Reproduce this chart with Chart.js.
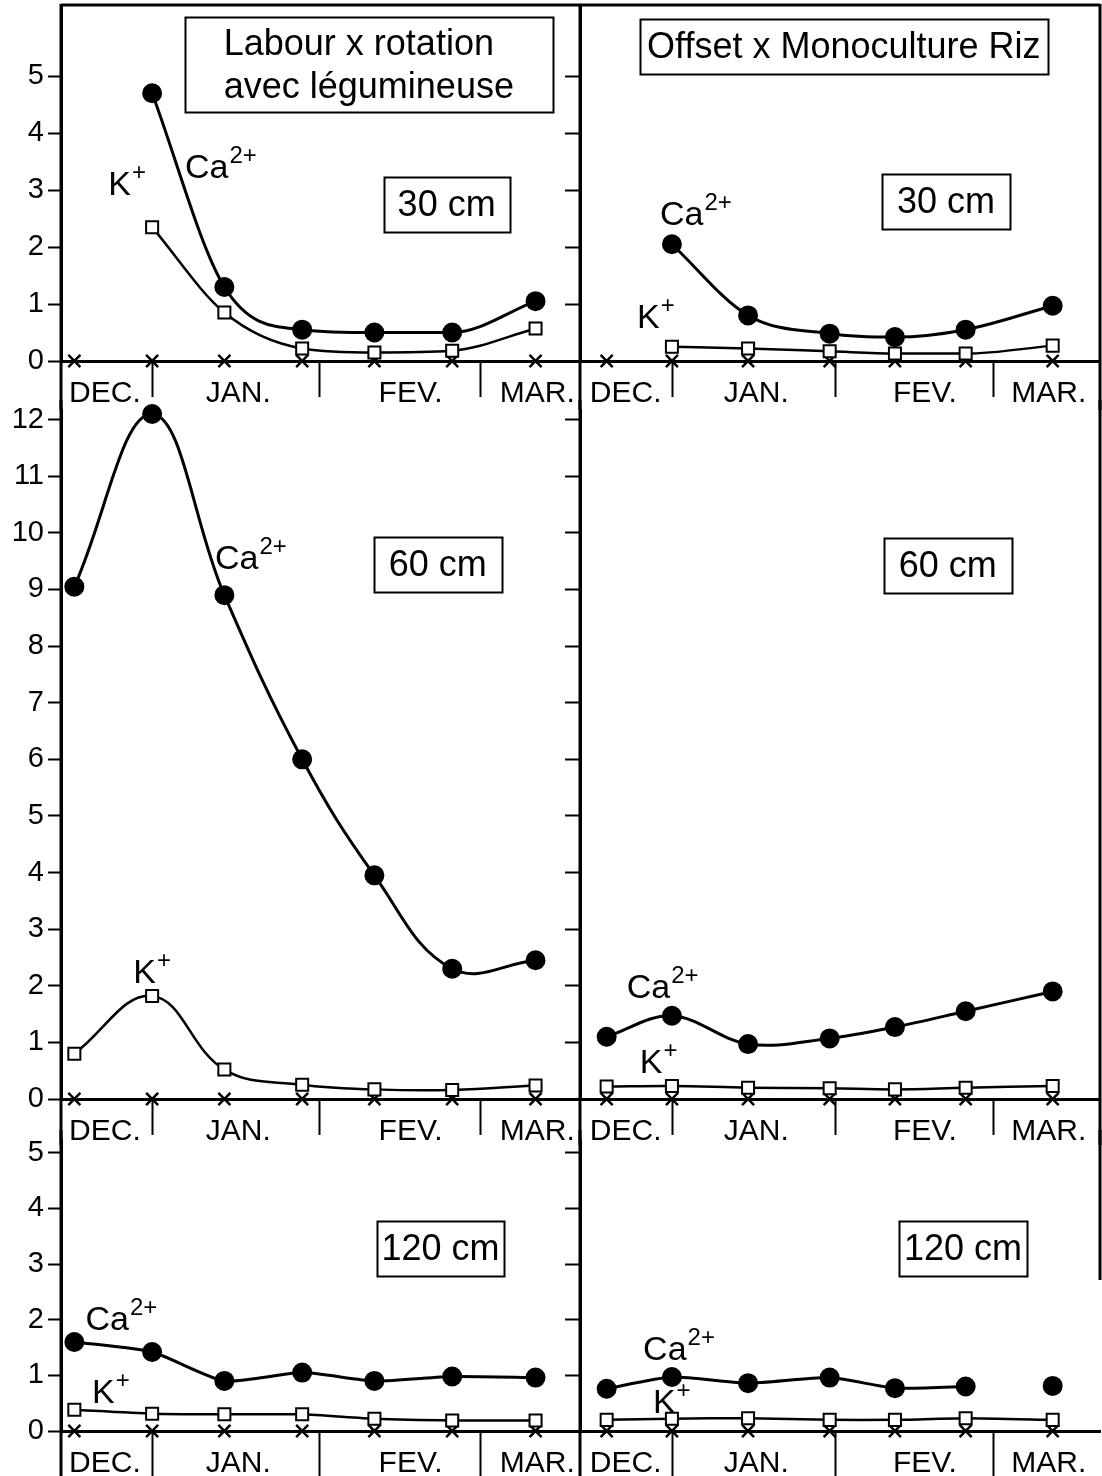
<!DOCTYPE html>
<html>
<head>
<meta charset="utf-8">
<script src="https://cdn.jsdelivr.net/npm/chart.js@4.4.0/dist/chart.umd.min.js"></script>
<style>
  body { margin: 0; background: #fff; }
  #page { position: relative; width: 1102px; height: 1476px; overflow: hidden; }
  canvas { position: absolute; }
</style>
</head>
<body>
<div id="page"></div>
<script>
// jours comptés depuis le 1er décembre
const monthNames = ['DEC.', 'JAN.', 'FEV.', 'MAR.'];
const monthStarts = [31, 61, 90];
const monthLabelDays = [22.5, 46.5, 77.5, 100.3];

const datesLabour = [17, 31, 44, 58, 71, 85, 100];
const datesOffset = [19, 31, 45, 60, 72, 85, 101];

const ticks30 = [0, 1, 2, 3, 4, 5];
const ticks60 = [0, 1, 2, 3, 4, 5, 6, 7, 8, 9, 10, 11, 12];
const ticks120 = [0, 1, 2, 3, 4, 5];

// 30 cm
const ca30Labour = [null, 4.7, 1.3, 0.55, 0.5, 0.5, 1.05];
const k30Labour = [null, 2.35, 0.85, 0.22, 0.15, 0.18, 0.57];
const ca30Offset = [null, 2.05, 0.8, 0.48, 0.42, 0.55, 0.97];
const k30Offset = [null, 0.25, 0.22, 0.17, 0.13, 0.13, 0.27];
// 60 cm
const ca60Labour = [9.05, 12.1, 8.9, 6.0, 3.95, 2.3, 2.45];
const k60Labour = [0.8, 1.82, 0.52, 0.25, 0.17, 0.16, 0.24];
const ca60Offset = [1.1, 1.47, 0.97, 1.07, 1.27, 1.55, 1.9];
const k60Offset = [0.22, 0.23, 0.2, 0.19, 0.17, 0.2, 0.23];
// 120 cm
const ca120Labour = [1.6, 1.42, 0.9, 1.05, 0.9, 0.98, 0.96];
const k120Labour = [0.38, 0.31, 0.3, 0.3, 0.22, 0.19, 0.19];
const ca120Offset = [0.76, 0.97, 0.86, 0.96, 0.77, 0.8, 0.81];
const k120Offset = [0.2, 0.22, 0.23, 0.2, 0.2, 0.23, 0.2];
// troisième ion (croix), ~0 partout
const autreIon = [0, 0, 0, 0, 0, 0, 0];

const FONT = '"Liberation Sans", Arial, sans-serif';

const panelDecor = {
  id: 'panelDecor',
  afterDraw(chart, args, opts) {
    const ctx = chart.ctx;
    const a = chart.chartArea;
    const x = chart.scales.x, y = chart.scales.y;
    const H = chart.height;
    ctx.save();
    ctx.strokeStyle = '#000';
    ctx.lineWidth = 3;
    ctx.beginPath();
    ctx.moveTo(a.left, opts.topBorder ? a.top - 1 : 0);
    ctx.lineTo(a.left, H);
    if (opts.rightBorder) {
      ctx.moveTo(a.right, opts.topBorder ? a.top - 1 : 0);
      ctx.lineTo(a.right, opts.rightEnd || H);
    }
    if (opts.topBorder) {
      ctx.moveTo(a.left, a.top);
      ctx.lineTo(a.right, a.top);
    }
    ctx.stroke();

    ctx.lineWidth = 2;
    ctx.beginPath();
    monthStarts.forEach(d => {
      const px = Math.round(x.getPixelForValue(d)) + 0.5;
      ctx.moveTo(px, a.bottom);
      ctx.lineTo(px, a.bottom + opts.sepLength);
    });
    ctx.stroke();

    (opts.boxes || []).forEach(b => {
      const cx = x.getPixelForValue(b.day);
      const cy = y.getPixelForValue(b.value);
      const l = Math.round(cx - b.w / 2) + 0.5, t = Math.round(cy - b.h / 2) + 0.5;
      ctx.fillStyle = '#fff';
      ctx.fillRect(l, t, b.w, b.h);
      ctx.lineWidth = 2;
      ctx.strokeRect(l, t, b.w, b.h);
      ctx.fillStyle = '#000';
      ctx.font = b.size + 'px ' + FONT;
      ctx.textBaseline = 'middle';
      ctx.textAlign = 'left';
      const widths = b.lines.map(s => ctx.measureText(s).width);
      const bw = Math.max(...widths);
      const lh = b.size * 1.2;
      b.lines.forEach((s, i) => {
        const ty = cy + (i - (b.lines.length - 1) / 2) * lh + 2;
        ctx.fillText(s, cx - bw / 2, ty);
      });
    });

    (opts.ions || []).forEach(lab => {
      const px = x.getPixelForValue(lab.day);
      const py = y.getPixelForValue(lab.value);
      ctx.fillStyle = '#000';
      ctx.textBaseline = 'alphabetic';
      ctx.textAlign = 'left';
      ctx.font = '34px ' + FONT;
      ctx.fillText(lab.text, px, py);
      const w = ctx.measureText(lab.text).width;
      ctx.font = '24px ' + FONT;
      ctx.fillText(lab.sup, px + w + 1, py - 15);
    });
    ctx.restore();
  }
};

function makePanel(p) {
  const cv = document.createElement('canvas');
  cv.width = p.w; cv.height = p.h;
  cv.style.left = p.left + 'px'; cv.style.top = p.top + 'px';
  document.getElementById('page').appendChild(cv);

  const dates = p.dates;
  const pts = arr => arr.map((v, i) => ({ x: dates[i], y: v }));
  const interp = p.monotone ? 'monotone' : 'default';

  new Chart(cv.getContext('2d'), {
    type: 'line',
    data: {
      datasets: [
        {
          label: 'Ca2+',
          data: pts(p.ca),
          borderColor: '#000',
          backgroundColor: '#000',
          borderWidth: 3,
          pointStyle: 'circle',
          pointRadius: 8.5,
          pointBackgroundColor: '#000',
          pointBorderColor: '#000',
          tension: p.tension,
          cubicInterpolationMode: interp,
          spanGaps: false,
          clip: false,
          segment: p.caGapAfter != null ? {
            borderColor: c => c.p0DataIndex === p.caGapAfter ? 'rgba(0,0,0,0)' : '#000'
          } : undefined
        },
        {
          label: 'K+',
          data: pts(p.k),
          borderColor: '#000',
          borderWidth: 2.5,
          pointStyle: 'rect',
          pointRadius: 8.5,
          pointBorderWidth: 2,
          pointBackgroundColor: '#fff',
          pointBorderColor: '#000',
          tension: p.tension,
          cubicInterpolationMode: interp,
          clip: false
        },
        {
          label: 'autre',
          data: pts(autreIon),
          showLine: false,
          pointStyle: 'crossRot',
          pointRadius: 8.5,
          pointBorderWidth: 2.5,
          pointBorderColor: '#000',
          borderColor: '#000',
          clip: false
        }
      ]
    },
    options: {
      responsive: false,
      animation: false,
      events: [],
      layout: { autoPadding: false, padding: { top: p.padTop, right: p.padRight, left: 0, bottom: 0 } },
      plugins: {
        legend: { display: false },
        tooltip: { enabled: false },
        panelDecor: {
          topBorder: p.topBorder,
          rightBorder: p.rightBorder,
          rightEnd: p.rightEnd,
          sepLength: p.sepLength,
          boxes: p.boxes,
          ions: p.ions
        }
      },
      scales: {
        x: {
          type: 'linear',
          min: p.xMin, max: p.xMax,
          afterBuildTicks: s => { s.ticks = monthLabelDays.map(v => ({ value: v })); },
          afterFit: s => { s.height = p.bandH; s.paddingLeft = 0; s.paddingRight = 0; },
          ticks: {
            autoSkip: false, maxRotation: 0, minRotation: 0,
            callback: (v, i) => monthNames[i],
            font: { size: 30, family: FONT },
            color: '#000',
            padding: 15
          },
          grid: { drawOnChartArea: false, drawTicks: false },
          border: { display: true, color: '#000', width: 3 }
        },
        y: {
          type: 'linear',
          min: 0, max: p.yMax,
          afterBuildTicks: s => { s.ticks = p.yTicks.map(v => ({ value: v })); },
          afterFit: s => { s.width = p.axisW; s.paddingTop = 0; s.paddingBottom = 0; },
          ticks: {
            display: p.showYLabels,
            font: { size: 29, family: FONT },
            color: '#000',
            padding: 4
          },
          grid: {
            drawOnChartArea: false, drawTicks: true,
            tickLength: p.tickLen, tickWidth: 2, tickColor: '#000'
          },
          border: { display: true, color: '#000', width: 3 }
        }
      }
    },
    plugins: [panelDecor]
  });
}

const leftCol = { left: 0, w: 590, axisW: 61, padRight: 10, xMin: 14.6, xMax: 108, dates: datesLabour, showYLabels: true, tickLen: 13 };
const rightCol = { left: 560, w: 542, axisW: 20, padRight: 2, xMin: 14.1, xMax: 109.7, dates: datesOffset, showYLabels: false, tickLen: 15 };

const row1 = { top: 0, h: 410, padTop: 5, bandH: 49, yMax: 6.25, yTicks: ticks30, topBorder: true, sepLength: 36 };
const row2 = { top: 400, h: 745, padTop: 10, bandH: 46, yMax: 12.17, yTicks: ticks60, topBorder: false, sepLength: 36 };
const row3 = { top: 1130, h: 346, padTop: 10, bandH: 45, yMax: 5.23, yTicks: ticks120, topBorder: false, sepLength: 46 };

makePanel(Object.assign({}, leftCol, row1, {
  ca: ca30Labour, k: k30Labour, tension: 0.4, monotone: true, rightBorder: false,
  boxes: [
    { day: 70, value: 5.2, w: 368, h: 95, size: 36, lines: ['Labour x rotation', 'avec légumineuse'] },
    { day: 84, value: 2.75, w: 126, h: 55, size: 36, lines: ['30 cm'] }
  ],
  ions: [
    { text: 'K', sup: '+', day: 23.1, value: 2.91 },
    { text: 'Ca', sup: '2+', day: 36.9, value: 3.21 }
  ]
}));
makePanel(Object.assign({}, rightCol, row1, {
  ca: ca30Offset, k: k30Offset, tension: 0.4, monotone: true, rightBorder: true,
  boxes: [
    { day: 62.6, value: 5.53, w: 408, h: 55, size: 36, lines: ['Offset x Monoculture Riz'] },
    { day: 81.4, value: 2.8, w: 128, h: 55, size: 36, lines: ['30 cm'] }
  ],
  ions: [
    { text: 'Ca', sup: '2+', day: 28.8, value: 2.39 },
    { text: 'K', sup: '+', day: 24.6, value: 0.58 }
  ]
}));
makePanel(Object.assign({}, leftCol, row2, {
  ca: ca60Labour, k: k60Labour, tension: 0.4, rightBorder: false,
  boxes: [
    { day: 82.4, value: 9.44, w: 128, h: 55, size: 36, lines: ['60 cm'] }
  ],
  ions: [
    { text: 'Ca', sup: '2+', day: 42.3, value: 9.36 },
    { text: 'K', sup: '+', day: 27.6, value: 2.05 }
  ]
}));
makePanel(Object.assign({}, rightCol, row2, {
  ca: ca60Offset, k: k60Offset, tension: 0.35, rightBorder: true,
  boxes: [
    { day: 81.7, value: 9.43, w: 128, h: 55, size: 36, lines: ['60 cm'] }
  ],
  ions: [
    { text: 'Ca', sup: '2+', day: 22.7, value: 1.78 },
    { text: 'K', sup: '+', day: 25.1, value: 0.46 }
  ]
}));
makePanel(Object.assign({}, leftCol, row3, {
  ca: ca120Labour, k: k120Labour, tension: 0.2, rightBorder: false,
  boxes: [
    { day: 82.9, value: 3.28, w: 127, h: 55, size: 36, lines: ['120 cm'] }
  ],
  ions: [
    { text: 'Ca', sup: '2+', day: 19, value: 1.82 },
    { text: 'K', sup: '+', day: 20.2, value: 0.5 }
  ]
}));
makePanel(Object.assign({}, rightCol, row3, {
  ca: ca120Offset, k: k120Offset, tension: 0.2, rightBorder: true, rightEnd: 150, caGapAfter: 5,
  boxes: [
    { day: 84.5, value: 3.28, w: 128, h: 55, size: 36, lines: ['120 cm'] }
  ],
  ions: [
    { text: 'Ca', sup: '2+', day: 25.7, value: 1.28 },
    { text: 'K', sup: '+', day: 27.5, value: 0.32 }
  ]
}));
</script>
</body>
</html>
